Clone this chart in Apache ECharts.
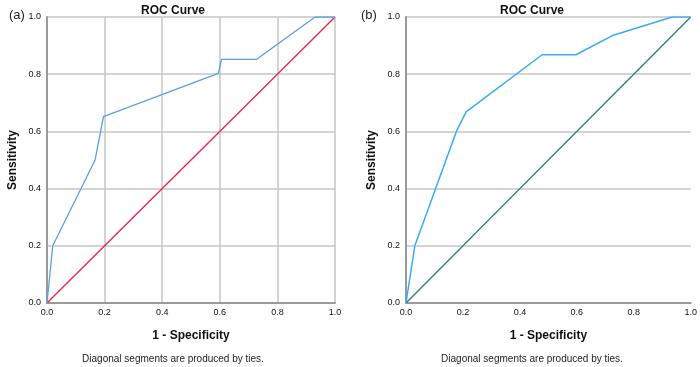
<!DOCTYPE html>
<html>
<head>
<meta charset="utf-8">
<script src="https://cdn.jsdelivr.net/npm/echarts@6/dist/echarts.min.js"></script>
<style>html,body{margin:0;padding:0;background:#fff;}#c{width:700px;height:367px;}</style>
</head>
<body>
<div id="c"></div>
<script>
// Panel (a) ROC points: 1 - Specificity, Sensitivity
const rocA_x = [0, 0.02, 0.167, 0.196, 0.595, 0.606, 0.728, 0.931, 1.0];
const rocA_y = [0, 0.20, 0.50, 0.652, 0.803, 0.852, 0.852, 1.0, 1.0];
// Panel (b)
const rocB_x = [0, 0.031, 0.177, 0.211, 0.478, 0.597, 0.725, 0.935, 1.0];
const rocB_y = [0, 0.20, 0.60, 0.668, 0.868, 0.868, 0.935, 1.0, 1.0];
const diag_x = [0, 1];
const diag_y = [0, 1];
const tickLabels = ['0.0', '0.2', '0.4', '0.6', '0.8', '1.0'];

const pairs = (xs, ys) => xs.map((x, i) => [x, ys[i]]);
const font = 'Liberation Sans, Arial, sans-serif';

function xAxis(idx, showGrid) {
  return {
    type: 'value', gridIndex: idx, min: 0, max: 1, interval: 0.2,
    name: '1 - Specificity', nameLocation: 'middle', nameGap: 27,
    nameTextStyle: { fontFamily: font, fontSize: 12, fontWeight: 'bold', color: '#111' },
    axisLine: { show: true, lineStyle: { color: '#9a9a9a', width: 2 } },
    axisTick: { show: false },
    axisLabel: { fontFamily: font, fontSize: 9, color: '#111', margin: 5,
      formatter: v => tickLabels[Math.round(v * 5)] },
    splitLine: { show: showGrid, lineStyle: { color: '#c6c6c6', width: 1.5 } }
  };
}
function yAxis(idx) {
  return {
    type: 'value', gridIndex: idx, min: 0, max: 1, interval: 0.2,
    name: 'Sensitivity', nameLocation: 'middle', nameGap: 28,
    nameTextStyle: { fontFamily: font, fontSize: 12, fontWeight: 'bold', color: '#111' },
    axisLine: { show: true, lineStyle: { color: '#9a9a9a', width: 2 } },
    axisTick: { show: false },
    axisLabel: { fontFamily: font, fontSize: 9, color: '#111', margin: 6,
      formatter: v => tickLabels[Math.round(v * 5)] },
    splitLine: { show: true, lineStyle: { color: '#c6c6c6', width: 1.5 } }
  };
}

const chart = echarts.init(document.getElementById('c'), null, { renderer: 'canvas' });
chart.setOption({
  animation: false,
  backgroundColor: '#fff',
  title: [
    { text: 'ROC Curve', left: 168, top: 0, textAlign: 'center',
      textStyle: { fontFamily: font, fontSize: 12, fontWeight: 'bold', color: '#111' } },
    { text: 'ROC Curve', left: 527, top: 0, textAlign: 'center',
      textStyle: { fontFamily: font, fontSize: 12, fontWeight: 'bold', color: '#111' } },
    { text: 'Diagonal segments are produced by ties.', left: 168, top: 349, textAlign: 'center',
      textStyle: { fontFamily: font, fontSize: 10, fontWeight: 'normal', color: '#222' } },
    { text: 'Diagonal segments are produced by ties.', left: 527, top: 349, textAlign: 'center',
      textStyle: { fontFamily: font, fontSize: 10, fontWeight: 'normal', color: '#222' } },
    { text: '(a)', left: 4, top: 4,
      textStyle: { fontFamily: font, fontSize: 13, fontWeight: 'normal', color: '#222' } },
    { text: '(b)', left: 356, top: 4,
      textStyle: { fontFamily: font, fontSize: 13, fontWeight: 'normal', color: '#222' } }
  ],
  grid: [
    { left: 47, right: 365, top: 17, bottom: 64 },
    { left: 406, right: 8, top: 17, bottom: 64 }
  ],
  xAxis: [xAxis(0, true), xAxis(1, false)],
  yAxis: [yAxis(0), yAxis(1)],
  series: [
    { type: 'line', xAxisIndex: 0, yAxisIndex: 0, data: pairs(diag_x, diag_y), showSymbol: false,
      lineStyle: { color: '#e8234a', width: 1.3 } },
    { type: 'line', xAxisIndex: 0, yAxisIndex: 0, data: pairs(rocA_x, rocA_y), showSymbol: false,
      lineStyle: { color: '#5a9de8', width: 1.3 } },
    { type: 'line', xAxisIndex: 1, yAxisIndex: 1, data: pairs(diag_x, diag_y), showSymbol: false,
      lineStyle: { color: '#2a7f7a', width: 1.3 } },
    { type: 'line', xAxisIndex: 1, yAxisIndex: 1, data: pairs(rocB_x, rocB_y), showSymbol: false,
      lineStyle: { color: '#3aabf5', width: 1.5 } }
  ]
});
</script>
</body>
</html>
